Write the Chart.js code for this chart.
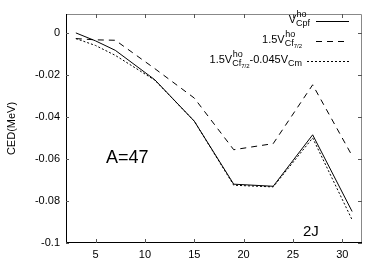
<!DOCTYPE html>
<html>
<head>
<meta charset="UTF-8">
<title>CED A=47</title>
<script src="https://cdn.jsdelivr.net/npm/chart.js"></script>
<style>
    html, body { margin: 0; padding: 0; background: #fff; }
    canvas { display: block; }
</style>
</head>
<body>
<canvas id="ced" width="382" height="267"></canvas>
<script>
// 2J values and CED (MeV)
const twoJ = [3, 5, 7, 11, 15, 19, 23, 27, 31];
const cpf = [0, -0.0038, -0.0083, -0.0223, -0.042, -0.072, -0.073, -0.0485, -0.085];
const cf72 = [-0.0027, -0.0033, -0.0035, -0.017, -0.031, -0.0556, -0.0527, -0.0247, -0.0585];
const cf72Cm = [-0.0027, -0.006, -0.0107, -0.0225, -0.042, -0.0725, -0.0733, -0.050, -0.089];
const xTicks = [5, 10, 15, 20, 25, 30];
const yTicks = [0, -0.02, -0.04, -0.06, -0.08, -0.1];

const FONT = "'Liberation Sans', Arial, sans-serif";

function pts(ys) {
    return twoJ.map((x, i) => ({ x: x, y: ys[i] }));
}

// legend entries: text pieces with sup / sub parts, right edge of text, sample start
const legendItems = [
    { dash: [], right: 310, from: 316, parts: [{ t: 'V' }, { sup: 'ho', sub: 'Cpf' }] },
    { dash: [6, 5], right: 302, from: 316, parts: [{ t: '1.5V' }, { sup: 'ho', sub: 'Cf', subsub: '7/2' }] },
    { dash: [2, 2], right: 302, from: 307, parts: [{ t: '1.5V' }, { sup: 'ho', sub: 'Cf', subsub: '7/2' }, { t: '-0.045V' }, { sub: 'Cm' }] }
];

function partWidth(ctx, p) {
    if (p.t) { ctx.font = '11px ' + FONT; return ctx.measureText(p.t).width; }
    ctx.font = '9px ' + FONT;
    let sw = p.sup ? ctx.measureText(p.sup).width : 0;
    let bw = p.sub ? ctx.measureText(p.sub).width : 0;
    if (p.subsub) { ctx.font = '6px ' + FONT; bw += ctx.measureText(p.subsub).width; }
    return Math.max(sw, bw);
}

function drawRich(ctx, parts, right, base) {
    let total = 0;
    parts.forEach(p => total += partWidth(ctx, p));
    let x = right - total;
    ctx.textAlign = 'left';
    ctx.textBaseline = 'alphabetic';
    parts.forEach(p => {
        const w = partWidth(ctx, p);
        if (p.t) {
            ctx.font = '11px ' + FONT;
            ctx.fillText(p.t, x, base);
        } else {
            ctx.font = '9px ' + FONT;
            if (p.sup) ctx.fillText(p.sup, x + 0.5, base - 6);
            if (p.sub) {
                ctx.fillText(p.sub, x, base + 3);
                if (p.subsub) {
                    const sw = ctx.measureText(p.sub).width;
                    ctx.font = '6px ' + FONT;
                    ctx.fillText(p.subsub, x + sw, base + 5);
                }
            }
        }
        x += w;
    });
}

const decor = {
    id: 'decor',
    afterDatasetsDraw(chart) {
        const ctx = chart.ctx;
        const a = chart.chartArea;
        const xs = chart.scales.x, ys = chart.scales.y;
        ctx.save();
        ctx.lineWidth = 1;
        ctx.setLineDash([]);
        // frame
        ctx.strokeStyle = '#888';
        ctx.beginPath();
        ctx.moveTo(a.left, a.top + 0.5); ctx.lineTo(a.right - 0.5, a.top + 0.5); ctx.lineTo(a.right - 0.5, a.bottom);
        ctx.stroke();
        ctx.strokeStyle = '#000';
        ctx.beginPath();
        ctx.moveTo(a.left + 0.5, a.top); ctx.lineTo(a.left + 0.5, a.bottom - 0.5); ctx.lineTo(a.right, a.bottom - 0.5);
        ctx.stroke();
        // inward ticks
        ctx.strokeStyle = '#555';
        ctx.beginPath();
        xTicks.forEach(v => {
            const px = Math.round(xs.getPixelForValue(v)) + 0.5;
            ctx.moveTo(px, a.bottom); ctx.lineTo(px, a.bottom - 4);
            ctx.moveTo(px, a.top); ctx.lineTo(px, a.top + 4);
        });
        yTicks.forEach(v => {
            const py = Math.round(ys.getPixelForValue(v)) + 0.5;
            ctx.moveTo(a.right, py); ctx.lineTo(a.right - 4, py);
            ctx.moveTo(a.left, py); ctx.lineTo(a.left + 3, py);
        });
        ctx.stroke();

        // labels
        ctx.fillStyle = '#000';
        ctx.font = '18px ' + FONT;
        ctx.textAlign = 'left';
        ctx.textBaseline = 'alphabetic';
        ctx.fillText('A=47', 106, 163);
        ctx.font = '15px ' + FONT;
        ctx.fillText('2J', 303, 236);

        // y title
        ctx.save();
        ctx.translate(15, (a.top + a.bottom) / 2);
        ctx.rotate(-Math.PI / 2);
        ctx.font = '11px ' + FONT;
        ctx.textAlign = 'center';
        ctx.fillText('CED(MeV)', 0, 0);
        ctx.restore();

        // legend
        legendItems.forEach((it, i) => {
            const base = 23 + i * 20;
            drawRich(ctx, it.parts, it.right, base);
            ctx.strokeStyle = '#000';
            ctx.lineWidth = 1;
            ctx.setLineDash(it.dash);
            ctx.beginPath();
            ctx.moveTo(it.from, base - 1.5); ctx.lineTo(349, base - 1.5);
            ctx.stroke();
        });
        ctx.restore();
    }
};

const tickFont = { family: FONT, size: 11 };

new Chart(document.getElementById('ced'), {
    type: 'line',
    data: {
        datasets: [
            { label: 'Cpf', data: pts(cpf), borderColor: '#000', borderWidth: 1, pointRadius: 0, tension: 0, fill: false },
            { label: 'Cf72', data: pts(cf72), borderColor: '#000', borderWidth: 1, borderDash: [6, 5], pointRadius: 0, tension: 0, fill: false },
            { label: 'Cf72Cm', data: pts(cf72Cm), borderColor: '#000', borderWidth: 1, borderDash: [2, 2], pointRadius: 0, tension: 0, fill: false }
        ]
    },
    options: {
        responsive: false,
        animation: false,
        devicePixelRatio: 1,
        layout: { padding: { left: 0, right: 20, top: 14, bottom: 0 } },
        plugins: { legend: { display: false }, tooltip: { enabled: false } },
        scales: {
            x: {
                type: 'linear', min: 2, max: 32,
                afterBuildTicks: s => { s.ticks = xTicks.map(v => ({ value: v })); },
                afterFit: s => { s.height = 24; },
                grid: { display: false, drawTicks: false },
                border: { display: false },
                ticks: { font: tickFont, color: '#000', padding: 5, maxRotation: 0 }
            },
            y: {
                type: 'linear', min: -0.1, max: 0.009,
                afterBuildTicks: s => { s.ticks = yTicks.map(v => ({ value: v })); },
                afterFit: s => { s.width = 66; },
                grid: { display: false, drawTicks: false },
                border: { display: false },
                ticks: { font: tickFont, color: '#000', padding: 6, callback: v => String(Math.round(v * 100) / 100) }
            }
        }
    },
    plugins: [decor]
});
</script>
</body>
</html>
